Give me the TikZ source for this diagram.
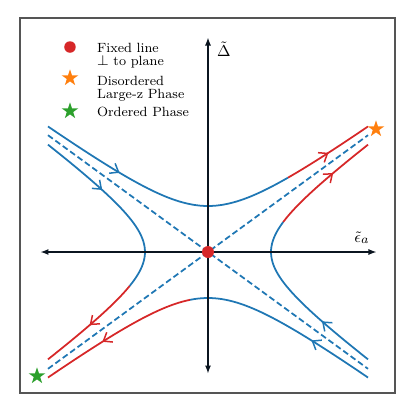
\documentclass[tikz,border=0pt]{standalone}
\usepackage{tikz}
\usepackage{xcolor}
\usetikzlibrary{arrows.meta,decorations.markings,shapes.geometric}
\definecolor{FlowBlue}{HTML}{1F77B4}
\definecolor{FlowRed}{HTML}{D62728}
\definecolor{StarOrange}{HTML}{FF7F0E}
\definecolor{StarGreen}{HTML}{2CA02C}
\definecolor{Frame}{HTML}{555555}
\definecolor{AxisInk}{HTML}{0B1520}
\tikzset{
  flow/.style={line width=1pt,line join=round},
  blueflow/.style={flow,draw=FlowBlue},
  redflow/.style={flow,draw=FlowRed},
  sep/.style={draw=FlowBlue,line width=1pt,dash pattern=on 3.4pt off 1.8pt},
  axis/.style={draw=AxisInk,line width=1.1pt,{Latex[length=1.7mm,width=1.2mm,fill=FlowBlue!55!black]}-{Latex[length=1.7mm,width=1.2mm,fill=FlowBlue!55!black]}},
  tipat/.style={postaction={decorate},decoration={markings,mark=at position #1 with {\arrow{Straight Barb[length=1.5mm,width=2.3mm,line width=0.85pt]}}}},
  fixpt/.style={circle,fill=FlowRed,inner sep=0pt,minimum size=2.4mm},
  starmark/.style={star,star points=5,star point ratio=2.6,fill=#1,inner sep=0pt,minimum size=3.5mm},
  legendtxt/.style={anchor=north west,align=left,inner sep=0pt,font=\fontsize{7.6}{7.4}\selectfont},
  axlabel/.style={inner sep=0pt,font=\fontsize{9.5}{11}\selectfont}
}

\begin{document}
\begin{tikzpicture}[x=0.8cm,y=0.8cm]
  \useasboundingbox (-5.2,-4.075) rectangle (5.175,6.3);
  \draw[Frame,line width=0.6pt] (-4.7,-3.525) rectangle (4.675,5.85);

  \draw[sep] (-4,2.92) -- (4,-2.92);
  \draw[sep] (-4,-2.92) -- (4,2.92);

  \draw[blueflow,tipat=0.32] plot[domain=-4:2,samples=61,variable=\s] (\s,{sqrt(0.5329*\s*\s+1.3225)});
  \draw[redflow,tipat=0.5] plot[domain=2:4,samples=21,variable=\s] (\s,{sqrt(0.5329*\s*\s+1.3225)});
  \draw[blueflow,tipat=0.34] plot[domain=4:-0.45,samples=46,variable=\s] (\s,{-sqrt(0.5329*\s*\s+1.3225)});
  \draw[redflow,tipat=0.6] plot[domain=-0.45:-4,samples=36,variable=\s] (\s,{-sqrt(0.5329*\s*\s+1.3225)});
  \draw[blueflow,tipat=0.38] plot[domain=2.684:-0.85,samples=46,variable=\s] ({-sqrt(\s*\s+1.3225)/0.73},\s);
  \draw[redflow,tipat=0.51] plot[domain=-0.85:-2.684,samples=26,variable=\s] ({-sqrt(\s*\s+1.3225)/0.73},\s);
  \draw[blueflow,tipat=0.33] plot[domain=-2.684:0.75,samples=46,variable=\s] ({sqrt(\s*\s+1.3225)/0.73},\s);
  \draw[redflow,tipat=0.61] plot[domain=0.75:2.684,samples=26,variable=\s] ({sqrt(\s*\s+1.3225)/0.73},\s);

  \coordinate (xl) at (-4.2,0);
  \coordinate (xr) at (4.225,0);
  \coordinate (yb) at (0,-3.05);
  \coordinate (yt) at (0,5.375);
  \draw[axis] (xl) -- (xr);
  \draw[axis] (yb) -- (yt);
  \node[axlabel] (dlab) at (0.4,5.06) {$\tilde{\Delta}$};
  \node[axlabel] (elab) at (3.85,0.36) {$\tilde{\epsilon}_a$};

  \node[fixpt] (fp) at (0,0) {};
  \node[starmark=StarOrange] (dis) at (4.2,3.075) {};
  \node[starmark=StarGreen] (ord) at (-4.275,-3.1) {};

  \node[fixpt,minimum size=2.3mm] (kfix) at (-3.45,5.125) {};
  \node[starmark=StarOrange] (kdis) at (-3.45,4.35) {};
  \node[starmark=StarGreen] (kord) at (-3.45,3.525) {};
  \node[legendtxt] (lfix) at (-2.78,5.24) {Fixed line\\$\perp$ to plane};
  \node[legendtxt] (ldis) at (-2.78,4.40) {Disordered\\Large-z Phase};
  \node[legendtxt] (lord) at (-2.78,3.62) {Ordered Phase};
\end{tikzpicture}
\end{document}
